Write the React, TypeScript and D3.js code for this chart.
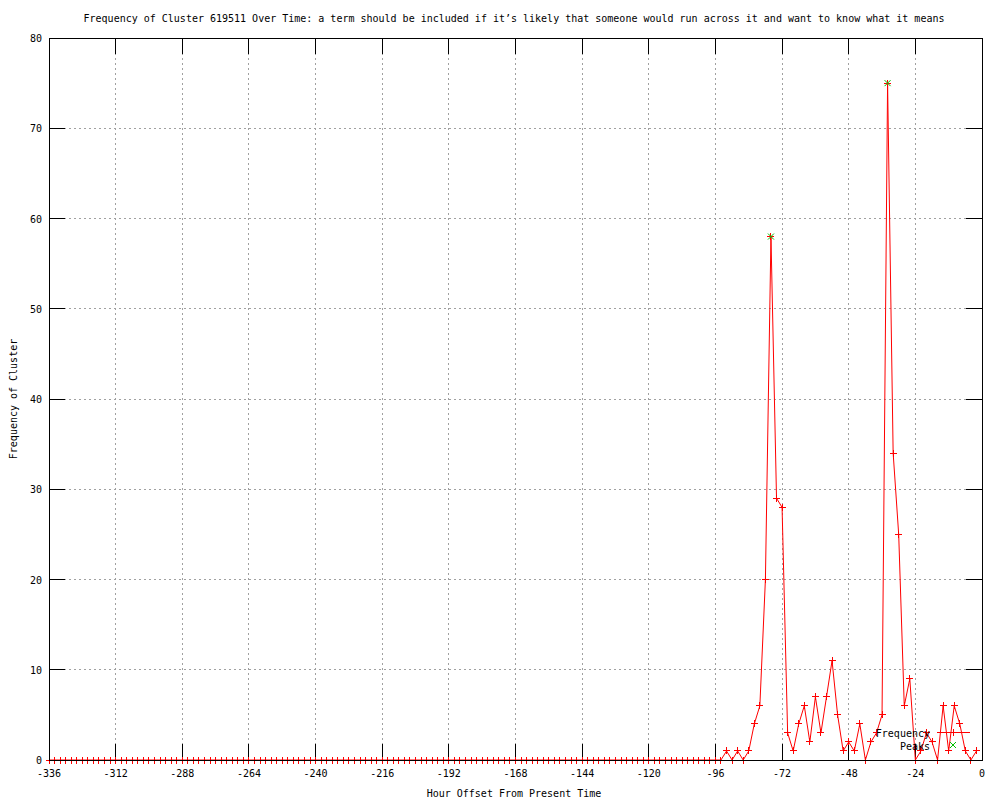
import React from 'react';
import * as d3 from 'd3';

// hours before present, one sample every 2 hours
const hours = d3.range(-336, 0, 2);

// frequency per sample, from -336 to -2
const frequency = [
  0, 0, 0, 0, 0, 0, 0, 0, 0, 0, 0, 0, 0, 0, 0, 0, 0, 0, 0, 0,
  0, 0, 0, 0, 0, 0, 0, 0, 0, 0, 0, 0, 0, 0, 0, 0, 0, 0, 0, 0,
  0, 0, 0, 0, 0, 0, 0, 0, 0, 0, 0, 0, 0, 0, 0, 0, 0, 0, 0, 0,
  0, 0, 0, 0, 0, 0, 0, 0, 0, 0, 0, 0, 0, 0, 0, 0, 0, 0, 0, 0,
  0, 0, 0, 0, 0, 0, 0, 0, 0, 0, 0, 0, 0, 0, 0, 0, 0, 0, 0, 0,
  0, 0, 0, 0, 0, 0, 0, 0, 0, 0, 0, 0, 0, 0, 0, 0, 0, 0,
  // -100 .. -2
  0, 0, 0, 0, 1, 0, 1, 0, 1, 4,
  6, 20, 58, 29, 28, 3, 1, 4, 6, 2,
  7, 3, 7, 11, 5, 1, 2, 1, 4, 0,
  2, 3, 5, 75, 34, 25, 6, 9, 0, 1,
  3, 2, 0, 6, 1, 6, 4, 1, 0, 1,
];

const peakHours = [-76, -34];
const peakValues = [58, 75];

const xTicks = [-336, -312, -288, -264, -240, -216, -192, -168, -144, -120, -96, -72, -48, -24, 0];
const yTicks = [0, 10, 20, 30, 40, 50, 60, 70, 80];

const title =
  'Frequency of Cluster 619511 Over Time: a term should be included if it\u2019s likely that someone would run across it and want to know what it means';

const W = 1000;
const H = 800;
const left = 49;
const right = 982;
const top = 38;
const bottom = 760;
const tickLen = 16;
const font = "'DejaVu Sans Mono', monospace";

export default function App() {
  const x = d3.scaleLinear().domain([-336, 0]).range([left, right]);
  const y = d3.scaleLinear().domain([0, 80]).range([bottom, top]);

  const line = d3
    .line<number>()
    .x((d, i) => x(hours[i]))
    .y((d) => y(d));

  const plus = (cx: number, cy: number, s = 3.5) =>
    `M${cx - s},${cy}H${cx + s}M${cx},${cy - s}V${cy + s}`;
  const cross = (cx: number, cy: number, s = 3) =>
    `M${cx - s},${cy - s}L${cx + s},${cy + s}M${cx - s},${cy + s}L${cx + s},${cy - s}`;

  return (
    <div style={{ position: 'absolute', left: 0, top: 0, width: W, height: H, background: '#fff' }}>
      <svg width={W} height={H} style={{ display: 'block', fontFamily: font, fontSize: 10 }}>
        <rect width={W} height={H} fill="#fff" />

        {/* grid */}
        <g stroke="#a0a0a0" strokeDasharray="2,3" shapeRendering="crispEdges">
          {xTicks.slice(1, -1).map((t) => (
            <line key={'gx' + t} x1={x(t)} x2={x(t)} y1={top} y2={bottom} />
          ))}
          {yTicks.slice(1, -1).map((t) => (
            <line key={'gy' + t} x1={left} x2={right} y1={y(t)} y2={y(t)} />
          ))}
        </g>

        {/* ticks */}
        <g stroke="#000" shapeRendering="crispEdges">
          {xTicks.map((t) => (
            <g key={'tx' + t}>
              <line x1={x(t)} x2={x(t)} y1={bottom} y2={bottom - tickLen} />
              <line x1={x(t)} x2={x(t)} y1={top} y2={top + tickLen} />
            </g>
          ))}
          {yTicks.map((t) => (
            <g key={'ty' + t}>
              <line x1={left} x2={left + tickLen} y1={y(t)} y2={y(t)} />
              <line x1={right} x2={right - tickLen} y1={y(t)} y2={y(t)} />
            </g>
          ))}
        </g>

        {/* tick labels */}
        {xTicks.map((t) => (
          <text key={'lx' + t} x={x(t)} y={bottom + 17} textAnchor="middle">
            {t}
          </text>
        ))}
        {yTicks.map((t) => (
          <text key={'ly' + t} x={left - 7} y={y(t) + 4} textAnchor="end">
            {t}
          </text>
        ))}

        {/* frequency series */}
        <path d={line(frequency) || ''} fill="none" stroke="#ff0000" strokeWidth={1} />
        <path
          d={frequency.map((v, i) => plus(x(hours[i]), y(v))).join('')}
          fill="none"
          stroke="#ff0000"
          strokeWidth={1}
          shapeRendering="crispEdges"
        />

        {/* peaks */}
        <path
          d={peakValues.map((v, i) => cross(x(peakHours[i]), y(v))).join('')}
          fill="none"
          stroke="#00c000"
          strokeWidth={1}
        />

        {/* border */}
        <rect
          x={left}
          y={top}
          width={right - left}
          height={bottom - top}
          fill="none"
          stroke="#000"
          shapeRendering="crispEdges"
        />

        {/* legend */}
        <text x={930} y={737} textAnchor="end">Frequency</text>
        <line x1={937} x2={970} y1={732} y2={732} stroke="#ff0000" shapeRendering="crispEdges" />
        <path d={plus(953, 732)} stroke="#ff0000" shapeRendering="crispEdges" />
        <text x={930} y={750} textAnchor="end">Peaks</text>
        <path d={cross(953, 745)} stroke="#00c000" fill="none" />

        {/* titles */}
        <text x={514} y={22} textAnchor="middle">{title}</text>
        <text x={514} y={797} textAnchor="middle">Hour Offset From Present Time</text>
        <text transform="translate(17,399) rotate(-90)" textAnchor="middle">
          Frequency of Cluster
        </text>
      </svg>
    </div>
  );
}
